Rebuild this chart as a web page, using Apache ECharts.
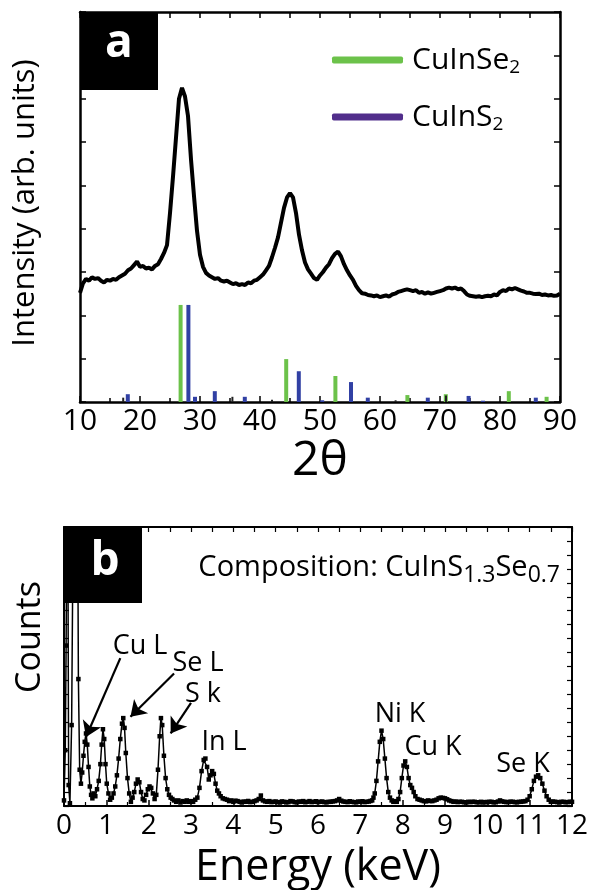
<!DOCTYPE html>
<html>
<head>
<meta charset="utf-8">
<script src="https://cdn.jsdelivr.net/npm/echarts@6/dist/echarts.min.js"></script>
<style>
  html, body { margin: 0; padding: 0; background: #fff; }
  #chart { width: 592px; height: 890px; }
</style>
</head>
<body>
<div id="chart"></div>
<script>
const FONT = 'Open Sans'

// panel a: XRD pattern, [2theta, intensity]
const xrdCurve = [
  [10.0, 2.52], [10.5, 2.74], [11.0, 2.84], [11.5, 2.80], [12.0, 2.88], [12.5, 2.84], [13.0, 2.86], [13.5, 2.80],
  [14.0, 2.76], [14.5, 2.82], [15.0, 2.80], [15.5, 2.84], [16.0, 2.82], [16.5, 2.88], [17.0, 2.92], [17.5, 2.96],
  [18.0, 3.04], [18.5, 3.08], [19.0, 3.16], [19.5, 3.24], [20.0, 3.12], [20.5, 3.14], [21.0, 3.08], [21.5, 3.10],
  [22.0, 3.06], [22.5, 3.14], [23.0, 3.18], [23.5, 3.30], [24.0, 3.44], [24.5, 3.62], [25.0, 4.36], [25.5, 5.20],
  [26.0, 6.10], [26.5, 7.00], [27.0, 7.25], [27.5, 7.05], [28.0, 6.60], [28.5, 5.60], [29.0, 4.75], [29.5, 3.95],
  [30.0, 3.40], [30.5, 3.12], [31.0, 2.98], [31.5, 2.92], [32.0, 2.88], [32.5, 2.84], [33.0, 2.86], [33.5, 2.80],
  [34.0, 2.78], [34.5, 2.80], [35.0, 2.76], [35.5, 2.72], [36.0, 2.74], [36.5, 2.70], [37.0, 2.72], [37.5, 2.70],
  [38.0, 2.76], [38.5, 2.74], [39.0, 2.80], [39.5, 2.82], [40.0, 2.88], [40.5, 2.94], [41.0, 3.04], [41.5, 3.14],
  [42.0, 3.34], [42.5, 3.56], [43.0, 3.80], [43.5, 4.14], [44.0, 4.48], [44.5, 4.72], [45.0, 4.82], [45.5, 4.72],
  [46.0, 4.36], [46.5, 3.86], [47.0, 3.50], [47.5, 3.22], [48.0, 3.06], [48.5, 2.96], [49.0, 2.86], [49.5, 2.82],
  [50.0, 2.92], [50.5, 3.00], [51.0, 3.10], [51.5, 3.18], [52.0, 3.32], [52.5, 3.42], [53.0, 3.47], [53.5, 3.36],
  [54.0, 3.18], [54.5, 3.04], [55.0, 2.92], [55.5, 2.82], [56.0, 2.68], [56.5, 2.58], [57.0, 2.51], [57.5, 2.50],
  [58.0, 2.47], [58.5, 2.46], [59.0, 2.44], [59.5, 2.46], [60.0, 2.42], [60.5, 2.44], [61.0, 2.46], [61.5, 2.43],
  [62.0, 2.48], [62.5, 2.50], [63.0, 2.54], [63.5, 2.56], [64.0, 2.58], [64.5, 2.60], [65.0, 2.58], [65.5, 2.56],
  [66.0, 2.58], [66.5, 2.52], [67.0, 2.54], [67.5, 2.50], [68.0, 2.53], [68.5, 2.50], [69.0, 2.52], [69.5, 2.54],
  [70.0, 2.56], [70.5, 2.58], [71.0, 2.62], [71.5, 2.64], [72.0, 2.62], [72.5, 2.64], [73.0, 2.60], [73.5, 2.62],
  [74.0, 2.56], [74.5, 2.48], [75.0, 2.45], [75.5, 2.44], [76.0, 2.43], [76.5, 2.44], [77.0, 2.42], [77.5, 2.44],
  [78.0, 2.45], [78.5, 2.44], [79.0, 2.48], [79.5, 2.46], [80.0, 2.54], [80.5, 2.58], [81.0, 2.56], [81.5, 2.62],
  [82.0, 2.60], [82.5, 2.63], [83.0, 2.60], [83.5, 2.57], [84.0, 2.55], [84.5, 2.52], [85.0, 2.52], [85.5, 2.50],
  [86.0, 2.49], [86.5, 2.50], [87.0, 2.47], [87.5, 2.48], [88.0, 2.46], [88.5, 2.47], [89.0, 2.45], [89.5, 2.46],
  [90.0, 2.50]
]

// reference stick patterns
const cuInSe2Peaks = [[26.6, 2.24], [44.2, 0.99], [52.4, 0.60], [64.4, 0.16], [70.8, 0.18], [81.3, 0.25], [87.6, 0.12]]
const cuInS2Peaks = [[17.8, 0.18], [27.9, 2.24], [29.0, 0.12], [32.3, 0.25], [37.3, 0.12], [46.3, 0.71], [50.2, 0.04],
  [55.0, 0.46], [57.8, 0.10], [67.8, 0.10], [74.6, 0.14], [77.0, 0.03], [85.8, 0.10]]
const otherPeaks = [[17.2, 0.10], [35.4, 0.12], [42.0, 0.05], [62.6, 0.04], [71.0, 0.15]]

// panel b: EDS spectrum, [keV, counts]
const edsSpectrum = [
  [0.00, 0.4], [0.03, 4.0], [0.05, 11.5], [0.08, 30], [0.11, 1.5], [0.14, 0.2], [0.18, 5.8], [0.24, 30],
  [0.31, 30], [0.34, 9.1], [0.37, 2.6], [0.40, 1.6], [0.43, 2.4], [0.46, 3.6], [0.49, 4.6], [0.52, 5.2],
  [0.55, 4.4], [0.58, 2.8], [0.61, 1.4], [0.64, 0.8], [0.67, 0.55], [0.70, 0.9], [0.74, 0.7], [0.78, 1.2],
  [0.82, 1.8], [0.86, 3.0], [0.89, 4.4], [0.92, 5.5], [0.95, 4.8], [0.98, 3.0], [1.01, 1.6], [1.05, 0.9],
  [1.09, 0.45], [1.13, 0.6], [1.17, 0.9], [1.21, 1.4], [1.25, 2.2], [1.29, 3.4], [1.33, 4.8], [1.37, 5.9],
  [1.40, 6.3], [1.43, 5.6], [1.46, 3.8], [1.50, 2.0], [1.54, 0.9], [1.58, 0.3], [1.62, 0.6], [1.66, 1.0],
  [1.70, 1.6], [1.74, 1.9], [1.78, 1.7], [1.82, 1.0], [1.86, 0.5], [1.90, 0.4], [1.94, 0.8], [1.98, 1.2],
  [2.02, 1.4], [2.06, 1.3], [2.10, 0.9], [2.14, 0.5], [2.18, 0.8], [2.22, 2.6], [2.26, 5.0], [2.29, 6.3],
  [2.32, 5.8], [2.36, 3.6], [2.40, 2.0], [2.44, 1.2], [2.48, 0.8], [2.52, 0.6], [2.56, 0.5], [2.60, 0.4],
  [2.65, 0.3], [2.70, 0.4], [2.75, 0.25], [2.80, 0.35], [2.85, 0.3], [2.90, 0.4], [2.95, 0.3], [3.00, 0.35],
  [3.05, 0.3], [3.10, 0.45], [3.15, 0.6], [3.20, 1.3], [3.25, 2.5], [3.30, 3.3], [3.34, 3.4], [3.38, 2.8],
  [3.42, 1.9], [3.46, 2.2], [3.50, 2.5], [3.54, 2.3], [3.58, 1.6], [3.62, 1.1], [3.66, 0.9], [3.70, 0.7],
  [3.75, 0.55], [3.80, 0.5], [3.85, 0.45], [3.90, 0.35], [3.95, 0.4], [4.0, 0.3], [4.05, 0.38], [4.1, 0.35],
  [4.15, 0.3], [4.2, 0.25], [4.25, 0.32], [4.3, 0.3], [4.35, 0.36], [4.4, 0.28], [4.45, 0.3], [4.5, 0.35],
  [4.55, 0.4], [4.6, 0.5], [4.65, 0.75], [4.7, 0.4], [4.75, 0.33], [4.8, 0.3], [4.85, 0.35], [4.9, 0.28],
  [4.95, 0.3], [5.0, 0.32], [5.05, 0.28], [5.1, 0.25], [5.15, 0.33], [5.2, 0.3], [5.25, 0.26], [5.3, 0.28],
  [5.35, 0.35], [5.4, 0.33], [5.45, 0.28], [5.5, 0.26], [5.55, 0.32], [5.6, 0.3], [5.65, 0.35], [5.7, 0.27],
  [5.75, 0.3], [5.8, 0.35], [5.85, 0.28], [5.9, 0.3], [5.95, 0.34], [6.0, 0.28], [6.05, 0.3], [6.1, 0.32],
  [6.15, 0.28], [6.2, 0.26], [6.25, 0.3], [6.3, 0.3], [6.35, 0.33], [6.4, 0.35], [6.45, 0.4], [6.5, 0.5],
  [6.55, 0.38], [6.6, 0.32], [6.65, 0.3], [6.7, 0.28], [6.75, 0.34], [6.8, 0.3], [6.85, 0.28], [6.9, 0.26],
  [6.95, 0.32], [7.0, 0.3], [7.05, 0.34], [7.1, 0.28], [7.15, 0.3], [7.2, 0.32], [7.24, 0.36], [7.28, 0.4],
  [7.31, 0.6], [7.34, 0.9], [7.38, 1.8], [7.42, 3.2], [7.46, 4.6], [7.50, 5.4], [7.54, 4.8], [7.58, 3.4],
  [7.62, 2.0], [7.66, 1.0], [7.70, 0.6], [7.74, 0.4], [7.78, 0.3], [7.82, 0.35], [7.86, 0.3], [7.90, 0.5],
  [7.94, 1.0], [7.98, 2.0], [8.02, 2.9], [8.06, 3.2], [8.10, 2.8], [8.14, 2.0], [8.18, 1.5], [8.22, 1.3],
  [8.26, 1.0], [8.30, 0.7], [8.35, 0.5], [8.40, 0.45], [8.45, 0.4], [8.5, 0.35], [8.55, 0.33], [8.6, 0.4],
  [8.65, 0.36], [8.7, 0.35], [8.75, 0.4], [8.8, 0.45], [8.85, 0.55], [8.9, 0.6], [8.95, 0.58], [9.0, 0.55],
  [9.05, 0.48], [9.1, 0.4], [9.15, 0.35], [9.2, 0.3], [9.25, 0.32], [9.3, 0.28], [9.35, 0.3], [9.4, 0.3],
  [9.45, 0.27], [9.5, 0.25], [9.55, 0.3], [9.6, 0.28], [9.65, 0.3], [9.7, 0.3], [9.75, 0.27], [9.8, 0.26],
  [9.85, 0.3], [9.9, 0.25], [9.95, 0.28], [10.0, 0.28], [10.05, 0.3], [10.1, 0.3], [10.15, 0.26], [10.2, 0.27],
  [10.25, 0.32], [10.3, 0.4], [10.35, 0.33], [10.4, 0.3], [10.45, 0.28], [10.5, 0.28], [10.55, 0.31], [10.6, 0.3],
  [10.65, 0.28], [10.7, 0.26], [10.75, 0.3], [10.8, 0.3], [10.85, 0.33], [10.9, 0.35], [10.95, 0.45], [11.00, 0.7],
  [11.05, 1.2], [11.10, 1.8], [11.15, 2.1], [11.20, 2.2], [11.25, 2.0], [11.30, 1.6], [11.35, 1.1], [11.40, 0.7],
  [11.45, 0.45], [11.50, 0.3], [11.55, 0.32], [11.6, 0.3], [11.65, 0.28], [11.7, 0.25], [11.75, 0.3], [11.8, 0.3],
  [11.85, 0.27], [11.9, 0.28], [11.95, 0.3], [12.0, 0.3]
]

// arrows: [from, to] in (keV, counts)
const edsArrows = [
  [[1.33, 10.6], [0.52, 4.95]],
  [[2.60, 9.5], [1.57, 6.4]],
  [[3.00, 7.4], [2.52, 5.2]]
]

const GREEN = '#6cc24a'
const BLUE = '#3140a4'
const PURPLE = '#512e8b'

const chart = echarts.init(document.getElementById('chart'))

function frameAxis(extra) {
  return Object.assign({
    type: 'value',
    axisLine: { show: true, onZero: false, lineStyle: { color: '#000', width: 2.5 } },
    axisTick: { show: true, inside: true, length: 6, lineStyle: { color: '#000', width: 1.5 } },
    axisLabel: { show: false },
    splitLine: { show: false }
  }, extra)
}

function peakLabel(text, x, y) {
  return {
    type: 'text', x: x, y: y, z: 50,
    style: { text: text, fontSize: 27, fontFamily: FONT, fill: '#000', align: 'center', verticalAlign: 'middle' }
  }
}

const option = {
  animation: false,
  backgroundColor: '#fff',
  grid: [
    { left: 80, top: 12, width: 480, height: 390 },
    { left: 64, top: 527, width: 508, height: 279 }
  ],
  xAxis: [
    frameAxis({
      gridIndex: 0, min: 10, max: 90, interval: 10, position: 'bottom',
      minorTick: { show: true, splitNumber: 2, length: 4, lineStyle: { color: '#000', width: 1.5 } },
      axisLabel: { show: true, fontSize: 30, fontFamily: FONT, color: '#000', margin: 4 },
      name: '2θ', nameLocation: 'middle', nameGap: 34,
      nameTextStyle: { fontSize: 48, fontFamily: FONT, color: '#000' }
    }),
    frameAxis({ gridIndex: 0, min: 10, max: 90, interval: 5, position: 'top' }),
    frameAxis({
      gridIndex: 1, min: 0, max: 12, interval: 1, position: 'bottom',
      axisLine: { show: true, onZero: false, lineStyle: { color: '#000', width: 2 } },
      minorTick: { show: true, splitNumber: 2, length: 4, lineStyle: { color: '#000', width: 1.2 } },
      axisLabel: { show: true, fontSize: 28, fontFamily: FONT, color: '#000', margin: 6 },
      name: 'Energy (keV)', nameLocation: 'middle', nameGap: 40,
      nameTextStyle: { fontSize: 43, fontFamily: FONT, color: '#000' }
    }),
    frameAxis({
      gridIndex: 1, min: 0, max: 12, interval: 0.5, position: 'top',
      axisLine: { show: true, onZero: false, lineStyle: { color: '#000', width: 2 } },
      axisTick: { show: true, inside: true, length: 5, lineStyle: { color: '#000', width: 1.2 } }
    })
  ],
  yAxis: [
    frameAxis({ gridIndex: 0, min: 0, max: 9, interval: 1, position: 'left' }),
    frameAxis({ gridIndex: 0, min: 0, max: 9, interval: 1, position: 'right' }),
    frameAxis({
      gridIndex: 1, min: 0, max: 20, interval: 1, position: 'left',
      axisLine: { show: true, onZero: false, lineStyle: { color: '#000', width: 2 } },
      axisTick: { show: true, inside: true, length: 5, lineStyle: { color: '#000', width: 1.2 } }
    }),
    frameAxis({
      gridIndex: 1, min: 0, max: 20, interval: 1, position: 'right',
      axisLine: { show: true, onZero: false, lineStyle: { color: '#000', width: 2 } },
      axisTick: { show: true, inside: true, length: 5, lineStyle: { color: '#000', width: 1.2 } }
    })
  ],
  legend: {
    orient: 'vertical', left: 327, top: 40, itemWidth: 71, itemHeight: 7, itemGap: 25,
    icon: 'roundRect',
    data: [
      { name: 'CuInSe2', itemStyle: { color: GREEN } },
      { name: 'CuInS2', itemStyle: { color: PURPLE } }
    ],
    formatter: function (name) {
      return name === 'CuInSe2' ? '{m|CuInSe}{s|2}' : '{m|CuInS}{s|2}'
    },
    textStyle: {
      padding: [0, 0, 0, 4],
      rich: {
        m: { fontSize: 30, fontFamily: FONT, color: '#000', lineHeight: 36 },
        s: { fontSize: 19, fontFamily: FONT, color: '#000', padding: [15, 0, 0, 0] }
      }
    }
  },
  series: [
    {
      name: 'CuInSe2', type: 'bar', xAxisIndex: 0, yAxisIndex: 0,
      barWidth: 4, barGap: '-100%', itemStyle: { color: GREEN }, data: cuInSe2Peaks
    },
    {
      name: 'CuInS2', type: 'bar', xAxisIndex: 0, yAxisIndex: 0,
      barWidth: 4, barGap: '-100%', itemStyle: { color: BLUE }, data: cuInS2Peaks
    },
    {
      name: 'other', type: 'bar', xAxisIndex: 0, yAxisIndex: 0,
      barWidth: 2, barGap: '-100%', itemStyle: { color: '#222' }, data: otherPeaks
    },
    {
      name: 'XRD', type: 'line', xAxisIndex: 0, yAxisIndex: 0,
      symbol: 'none', lineStyle: { color: '#000', width: 4 }, data: xrdCurve, z: 5
    },
    {
      name: 'EDS', type: 'line', xAxisIndex: 2, yAxisIndex: 2,
      symbol: 'rect', symbolSize: 4.5, showAllSymbol: true,
      itemStyle: { color: '#000' }, lineStyle: { color: '#000', width: 1.5 },
      data: edsSpectrum,
      markLine: {
        silent: true, symbol: ['none', 'arrow'], symbolSize: 15,
        lineStyle: { color: '#000', width: 2.2, type: 'solid' },
        label: { show: false },
        data: edsArrows.map(a => [{ coord: a[0] }, { coord: a[1] }])
      }
    }
  ],
  graphic: [
    { type: 'rect', z: 100, shape: { x: 80, y: 12, width: 78, height: 78 }, style: { fill: '#000' } },
    { type: 'text', z: 101, x: 119, y: 44, style: { text: 'a', fontSize: 46, fontWeight: 'bold', fontFamily: FONT, fill: '#fff', align: 'center', verticalAlign: 'middle' } },
    { type: 'rect', z: 100, shape: { x: 64, y: 527, width: 78, height: 76 }, style: { fill: '#000' } },
    { type: 'text', z: 101, x: 105, y: 562, style: { text: 'b', fontSize: 46, fontWeight: 'bold', fontFamily: FONT, fill: '#fff', align: 'center', verticalAlign: 'middle' } },
    { type: 'text', x: 25, y: 203, rotation: Math.PI / 2,
      style: { text: 'Intensity (arb. units)', fontSize: 31, fontFamily: FONT, fill: '#000', align: 'center', verticalAlign: 'middle' } },
    { type: 'text', x: 30, y: 637, rotation: Math.PI / 2,
      style: { text: 'Counts', fontSize: 34, fontFamily: FONT, fill: '#000', align: 'center', verticalAlign: 'middle' } },
    { type: 'text', x: 560, y: 568,
      style: {
        text: '{m|Composition: CuInS}{s|1.3}{m|Se}{s|0.7}', align: 'right', verticalAlign: 'middle',
        rich: {
          m: { fontSize: 29, fontFamily: FONT, fill: '#000', lineHeight: 36 },
          s: { fontSize: 23, fontFamily: FONT, fill: '#000', padding: [15, 0, 0, 0] }
        }
      }
    },
    peakLabel('Cu L', 140, 646),
    peakLabel('Se L', 198, 663),
    peakLabel('S k', 203, 694),
    peakLabel('In L', 224, 742),
    peakLabel('Ni K', 400, 714),
    peakLabel('Cu K', 433, 747),
    peakLabel('Se K', 523, 764)
  ]
}

chart.setOption(option)
</script>
</body>
</html>
